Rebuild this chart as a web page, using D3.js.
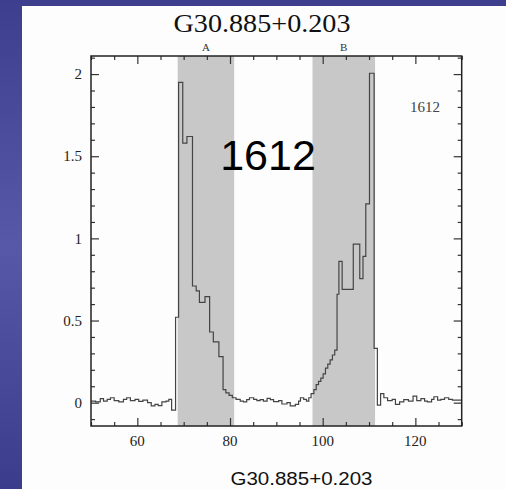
<!DOCTYPE html>
<html><head><meta charset="utf-8">
<script src="https://cdn.jsdelivr.net/npm/d3@7"></script>
<style>html,body{margin:0;padding:0;overflow:hidden;background:#fff}</style>
</head><body>
<svg id="c" width="506" height="489"></svg>
<script>
// ---- data ----
const title = "G30.885+0.203";
const caption = "G30.885+0.203";
const bigLabel = "1612";
const smallLabel = "1612";
const bandNames = ["A", "B"];
const bandStart = [68.7, 97.8];
const bandEnd = [80.9, 111.3];
const xMajorTicks = [60, 80, 100, 120];
const yMajorTicks = [0, 0.5, 1, 1.5, 2];
const yTickLabels = ["0", "0.5", "1", "1.5", "2"];
// step spectrum: channel start velocity and flux
const chanStart = [50.0,51.0,52.0,52.7,53.5,54.2,55.0,56.0,57.0,57.7,58.5,59.5,60.3,61.2,62.2,63.0,63.8,64.5,65.3,66.2,66.8,67.4,
  68.25,68.9,69.8,70.7,71.9,72.7,73.4,74.6,75.6,76.4,77.6,78.5,79.1,79.8,80.5,81.3,82.2,82.9,83.6,84.2,85.1,85.8,86.5,87.2,88.0,88.7,
  89.4,90.5,91.2,92.3,93.0,94.1,94.8,95.2,95.9,96.5,97.0,97.5,98.1,98.6,99.1,99.6,100.1,100.6,101.1,101.6,102.1,102.6,103.1,103.5,
  104.2,106.6,108.0,108.7,109.3,110.1,111.1,111.8,112.5,113.2,114.0,115.0,115.7,116.6,117.5,118.5,119.5,120.3,121.2,122.0,122.6,
  123.5,124.0,124.8,125.5,126.3,127.2,128.0];
const chanFlux = [0.010,0.005,0.025,0.010,0.020,0.030,0.012,0.005,0.020,0.030,0.012,0.020,0.008,0.015,0.000,-0.020,-0.010,-0.018,0.005,0.010,0.020,-0.045,
  0.52,1.95,1.58,1.62,0.71,0.68,0.61,0.645,0.43,0.37,0.28,0.08,0.06,0.045,0.03,0.02,0.01,0.005,0.018,0.03,0.02,0.012,0.018,0.01,0.026,0.018,
  0.006,0.012,-0.008,0.0,-0.02,-0.01,0.01,0.03,0.02,0.01,0.03,0.055,0.08,0.11,0.13,0.15,0.175,0.21,0.235,0.26,0.29,0.32,0.66,0.86,
  0.69,0.965,0.755,0.89,1.21,2.005,0.33,-0.015,0.055,0.03,0.012,0.02,-0.01,0.005,0.018,0.01,0.04,0.012,0.025,0.01,0.005,
  0.02,0.036,0.015,0.02,0.03,0.02,0.015];
const xDomain = [50, 130];
const yDomain = [-0.142, 2.11];

// ---- drawing ----
const svg = d3.select("#c");
const defs = svg.append("defs");
const grad = defs.append("linearGradient").attr("id","bg").attr("x1",0).attr("y1",0).attr("x2",0).attr("y2",1);
grad.append("stop").attr("offset","0%").attr("stop-color","#3d3f8e");
grad.append("stop").attr("offset","50%").attr("stop-color","#5759a8");
grad.append("stop").attr("offset","100%").attr("stop-color","#3b3d8c");
svg.append("rect").attr("width",506).attr("height",489).attr("fill","url(#bg)");
svg.append("rect").attr("x",22).attr("y",6).attr("width",484).attr("height",483).attr("fill","#fdfdfd");

const L = 91, R = 461.7, T = 56, B = 426;
const x = d3.scaleLinear().domain(xDomain).range([L, R]);
const y = d3.scaleLinear().domain(yDomain).range([B, T]);

defs.append("clipPath").attr("id","clip").append("rect").attr("x",L).attr("y",T).attr("width",R-L).attr("height",B-T);

// bands
const bands = bandNames.map((n,i)=>({n, s:bandStart[i], e:bandEnd[i]}));
svg.append("g").attr("clip-path","url(#clip)").selectAll("rect").data(bands).join("rect")
  .attr("x",d=>x(d.s)).attr("width",d=>x(d.e)-x(d.s)).attr("y",T).attr("height",B-T).attr("fill","#c8c8c8");
svg.append("g").selectAll("text").data(bands).join("text")
  .attr("x",d=>x((d.s+d.e)/2)).attr("y",51).attr("text-anchor","middle")
  .attr("font-family","Liberation Serif, serif").attr("font-size",11).attr("fill","#333").text(d=>d.n);

// spectrum
const pts = chanStart.map((v,i)=>[v, chanFlux[i]]);
pts.push([xDomain[1], chanFlux[chanFlux.length-1]]);
const line = d3.line().x(d=>x(d[0])).y(d=>y(d[1])).curve(d3.curveStepAfter);
svg.append("path").attr("clip-path","url(#clip)").attr("d",line(pts))
  .attr("fill","none").attr("stroke","#444").attr("stroke-width",1.2);

// axes with inward ticks
const tickCol = "#333";
const xMinor = d3.range(50, 131, 5).filter(v=>!xMajorTicks.includes(v));
const yMinor = d3.range(-1, 22).map(v=>v/10).filter(v=>v>yDomain[0] && v<yDomain[1] && !yMajorTicks.includes(v));
function axisX(pos, dir){
  const g = svg.append("g").attr("transform",`translate(0,${pos})`);
  g.append("g").call(d3.axisBottom(x).tickValues(xMajorTicks).tickSize(-8*dir).tickFormat(""));
  g.append("g").call(d3.axisBottom(x).tickValues(xMinor).tickSize(-4*dir).tickFormat(""));
  g.selectAll(".domain").remove();
  g.selectAll("line").attr("stroke",tickCol).attr("stroke-width",1.2);
}
function axisY(pos, dir){
  const g = svg.append("g").attr("transform",`translate(${pos},0)`);
  g.append("g").call(d3.axisLeft(y).tickValues(yMajorTicks).tickSize(-8*dir).tickFormat(""));
  g.append("g").call(d3.axisLeft(y).tickValues(yMinor).tickSize(-4*dir).tickFormat(""));
  g.selectAll(".domain").remove();
  g.selectAll("line").attr("stroke",tickCol).attr("stroke-width",1.2);
}
axisX(B, 1); axisX(T, -1); axisY(L, 1); axisY(R, -1);

svg.append("rect").attr("x",L).attr("y",T).attr("width",R-L).attr("height",B-T)
  .attr("fill","none").attr("stroke","#222").attr("stroke-width",1.5);

// tick labels
svg.append("g").selectAll("text").data(yMajorTicks).join("text")
  .attr("x",82).attr("y",d=>y(d)).attr("dy","0.35em").attr("text-anchor","end")
  .attr("font-family","Liberation Serif, serif").attr("font-size",15).attr("fill","#222")
  .text((d,i)=>yTickLabels[i]);
svg.append("g").selectAll("text").data(xMajorTicks).join("text")
  .attr("x",d=>x(d)).attr("y",441).attr("dy","0.35em").attr("text-anchor","middle")
  .attr("font-family","Liberation Serif, serif").attr("font-size",15).attr("fill","#222")
  .text(d=>d);

// texts
svg.append("text").attr("x",262).attr("y",31.5).attr("text-anchor","middle")
  .attr("font-family","Liberation Serif, serif").attr("font-size",26).attr("fill","#111")
  .attr("textLength",177).attr("lengthAdjust","spacingAndGlyphs").text(title);
svg.append("text").attr("x",268).attr("y",170).attr("text-anchor","middle")
  .attr("font-family","Liberation Sans, Arial, sans-serif").attr("font-size",43).attr("fill","#000").text(bigLabel);
svg.append("text").attr("x",425).attr("y",112).attr("text-anchor","middle")
  .attr("font-family","Liberation Serif, serif").attr("font-size",15).attr("fill","#444").text(smallLabel);
svg.append("text").attr("x",301.5).attr("y",485).attr("text-anchor","middle")
  .attr("font-family","Liberation Sans, Arial, sans-serif").attr("font-size",18).attr("fill","#111")
  .attr("textLength",142).attr("lengthAdjust","spacingAndGlyphs").text(caption);
</script>
</body></html>
